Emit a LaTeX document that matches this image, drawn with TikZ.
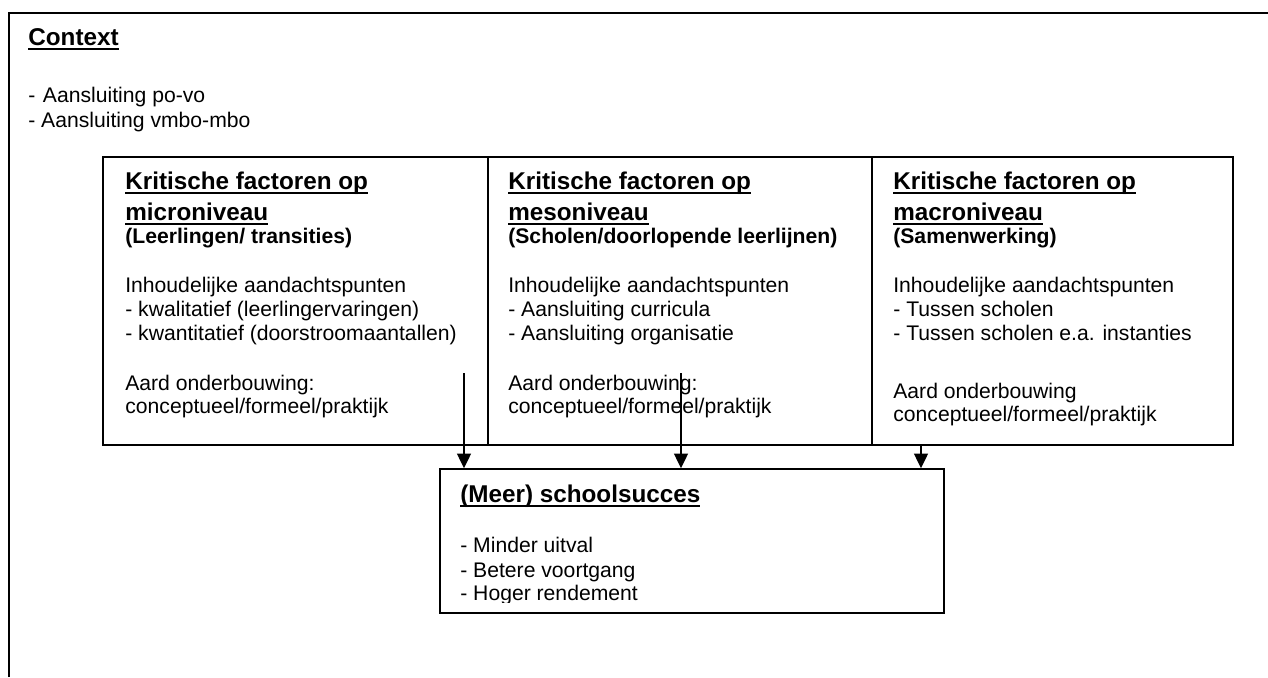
\documentclass[tikz,border=0pt]{standalone}
\usepackage{fontspec}
\setmainfont{Liberation Sans}
\usetikzlibrary{arrows.meta}
\newcommand{\ulx}[1]{\setbox0\hbox{#1}\rlap{\rule[-2.8pt]{\wd0}{1.1pt}}\box0}
\tikzset{
  box/.style={draw, line width=0.85pt, rectangle, inner sep=0pt},
  body/.style={anchor=base west, inner sep=0pt, font=\fontsize{12.2pt}{14pt}\selectfont},
  head/.style={anchor=base west, inner sep=0pt, font=\fontsize{14pt}{16pt}\selectfont\bfseries},
  sub/.style={anchor=base west, inner sep=0pt, font=\fontsize{12.2pt}{14pt}\selectfont\bfseries},
  arr/.style={line width=1.1pt, -{Triangle[width=8pt,length=8.5pt]}},
  frame/.style={line width=1.1pt}
}
\begin{document}
\begin{tikzpicture}[x=0.577pt,y=-0.577pt]
\useasboundingbox (0,0) rectangle (1268,677);
\draw[frame] (9,677) -- (9,13) -- (1268,13);

% context
\node[head] (c0) at (28,45) {\ulx{Context}};
\node[body] (c1) at (28,102) {-\kern1pt{} Aansluiting po-vo};
\node[body] (c2) at (28,127) {- Aansluiting vmbo-mbo};

% three boxes
\node[box, minimum width={385*0.577pt}, minimum height={288*0.577pt}] (lbox) at (295.5,301) {};
\node[box, minimum width={384*0.577pt}, minimum height={288*0.577pt}] (mbox) at (680,301) {};
\node[box, minimum width={361*0.577pt}, minimum height={288*0.577pt}] (rbox) at (1052.5,301) {};

% left box text
\node[head] (a1) at (125,189) {\ulx{Kritische factoren op}};
\node[head] (a2) at (125,220) {\ulx{microniveau}};
\node[sub]  (a3) at (125,243) {(Leerlingen/ transities)};
\node[body] (a4) at (125,292) {Inhoudelijke aandachtspunten};
\node[body] (a5) at (125,316) {- kwalitatief (leerlingervaringen)};
\node[body] (a6) at (125,340) {- kwantitatief (doorstroomaantallen)};
\node[body] (a7) at (125,390) {Aard onderbouwing:};
\node[body] (a8) at (125,413) {conceptueel/formeel/praktijk};

% middle box text
\node[head] (b1) at (508,189) {\ulx{Kritische factoren op}};
\node[head] (b2) at (508,220) {\ulx{mesoniveau}};
\node[sub]  (b3) at (508,243) {(Scholen/doorlopende leerlijnen)};
\node[body] (b4) at (508,292) {Inhoudelijke aandachtspunten};
\node[body] (b5) at (508,316) {- Aansluiting curricula};
\node[body] (b6) at (508,340) {- Aansluiting organisatie};
\node[body] (b7) at (508,390) {Aard onderbouwing:};
\node[body] (b8) at (508,413) {conceptueel/formeel/praktijk};

% right box text
\node[head] (r1) at (893,189) {\ulx{Kritische factoren op}};
\node[head] (r2) at (893,220) {\ulx{macroniveau}};
\node[sub]  (r3) at (893,243) {(Samenwerking)};
\node[body] (r4) at (893,292) {Inhoudelijke aandachtspunten};
\node[body] (r5) at (893,316) {- Tussen scholen};
\node[body] (r6) at (893,340) {- Tussen scholen e.a. instanties};
\node[body] (r7) at (893,398) {Aard onderbouwing};
\node[body] (r8) at (893,421) {conceptueel/formeel/praktijk};

% bottom box
\node[box, minimum width={504*0.577pt}, minimum height={144*0.577pt}] (bot) at (692,541) {};
\node[head] (s1) at (460,502) {\ulx{(Meer) schoolsucces}};
\node[body] (s2) at (460,552) {- Minder uitval};
\node[body] (s3) at (460,577) {- Betere voortgang};
\begin{scope}
\clip (440,469) rectangle (944,602);
\node[body] (s4) at (460,600) {- Hoger rendement};
\end{scope}

% arrows
\coordinate (p1) at (464,373);
\coordinate (p2) at (681,373);
\coordinate (p3) at (921,445);
\draw[arr] (p1) -- (p1 |- bot.north);
\draw[arr] (p2) -- (p2 |- bot.north);
\draw[arr] (p3) -- (p3 |- bot.north);
\end{tikzpicture}
\end{document}
